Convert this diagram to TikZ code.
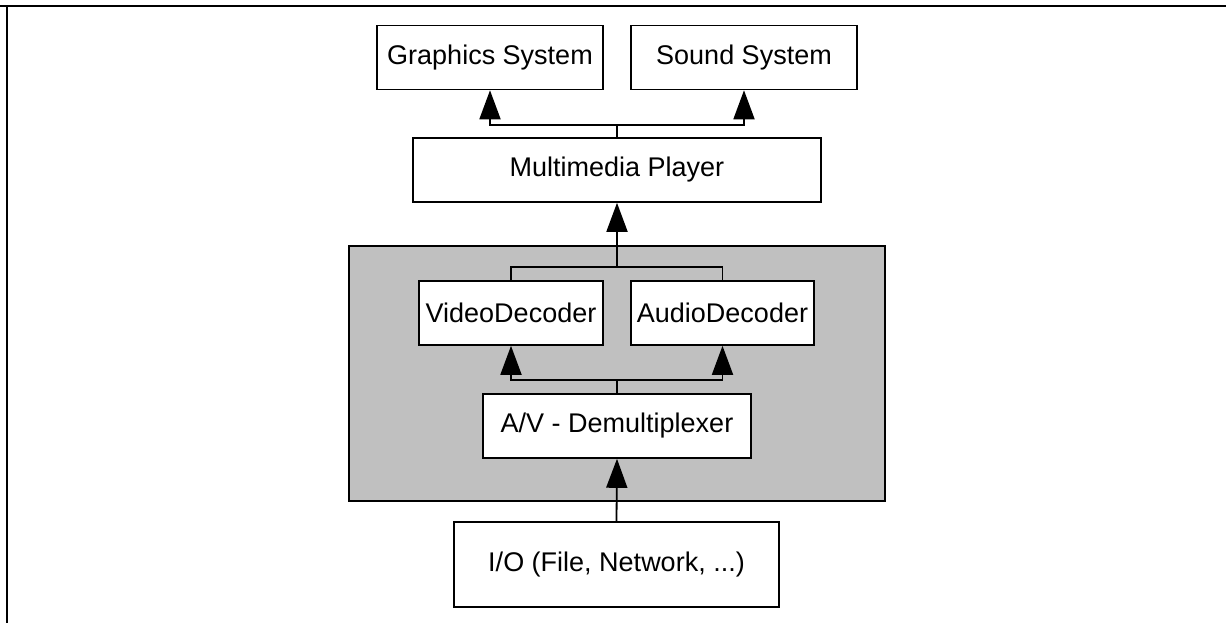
\documentclass[tikz,border=0pt]{standalone}
\usepackage{fontspec}
\setmainfont{Liberation Sans}
\usepackage{tikz}
\usetikzlibrary{arrows.meta,positioning}
\definecolor{layer}{HTML}{C0C0C0}
\tikzset{
  block/.style={draw,line width=0.8pt,fill=white,inner sep=0pt,minimum height=32pt},
  arrow/.style={-{Triangle[length=14.5pt,width=10.5pt]},line width=0.9pt},
  wire/.style={line width=0.9pt}
}

\begin{document}
\begin{tikzpicture}[x=0.5pt,y=-0.5pt,font=\fontsize{13.5}{16}\selectfont]
\useasboundingbox (0,0) rectangle (1226,623);
\draw[line width=0.8pt] (0,6) -- (1226,6);
\draw[line width=0.8pt] (7,6) -- (7,623);
% grey decoder layer
\node[draw,line width=0.6pt,fill=layer,minimum width=268pt,minimum height=127.5pt,inner sep=0pt] (core) at (617,373.5) {};
\node[block,minimum width=113pt] (gfx) at (490,57.5) {Graphics System};
\node[block,minimum width=113pt] (snd) at (744,57.5) {Sound System};
\node[block,minimum width=204pt] (player) at (617,170) {Multimedia Player};
\node[block,minimum width=92pt] (video) at (511,313) {VideoDecoder};
\node[block,minimum width=91.5pt] (audio) at (722.5,313) {AudioDecoder};
\node[block,minimum width=134pt] (demux) at (617,426) {A/V - Demultiplexer};
\node[block,minimum width=162.5pt,minimum height=42.5pt] (io) at (616.5,564.5) {I/O (File, Network, ...)};
\coordinate (out) at (617,125);
\coordinate (join) at (617,267);
\coordinate (split) at (617,380);
\draw[wire] (player.north) -- (out);
\draw[arrow] (out) -| (gfx.south);
\draw[arrow] (out) -| (snd.south);
\draw[wire] (video.north) |- (join) -| (audio.north);
\draw[arrow] (join) -- (player.south);
\draw[wire] (demux.north) -- (split);
\draw[arrow] (split) -| (video.south);
\draw[arrow] (split) -| (audio.south);
\draw[arrow] (io.north) -- (demux.south);
\end{tikzpicture}
\end{document}
